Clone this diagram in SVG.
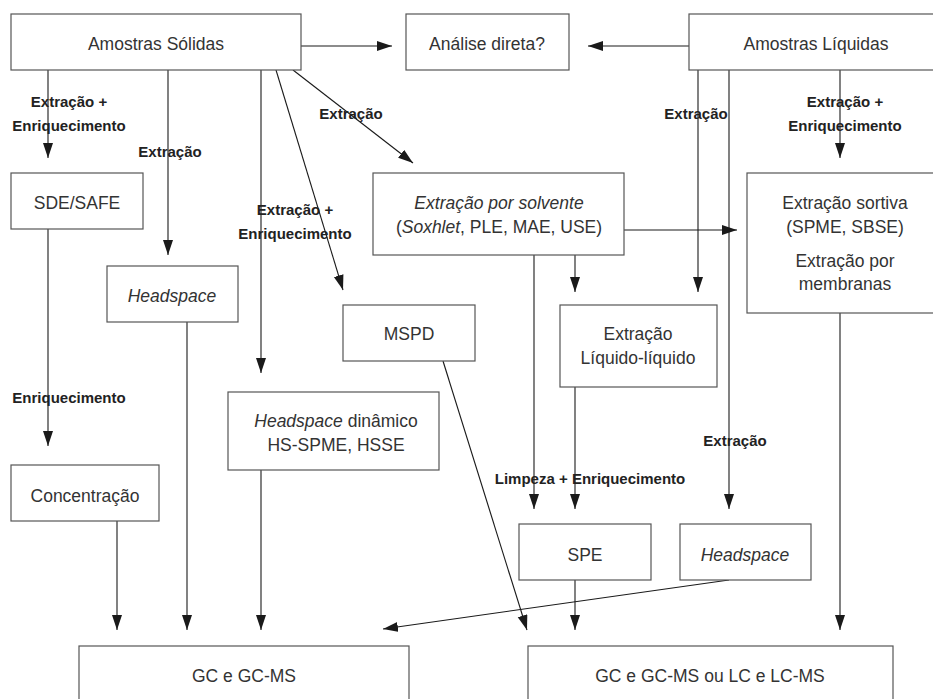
<svg xmlns="http://www.w3.org/2000/svg" width="933" height="699" viewBox="0 0 933 699">
<defs>
<marker id="ah" markerUnits="userSpaceOnUse" markerWidth="16" markerHeight="12" refX="15" refY="5" orient="auto"><path d="M0,0 L15,5 L0,10 z" fill="#1a1a1a"/></marker>
<style>
.box{fill:#fff;stroke:#555;stroke-width:1.2}
.t{font-family:"Liberation Sans",Arial,sans-serif;font-size:17.5px;fill:#333;text-anchor:middle}
.i{font-style:italic}
.lb{font-family:"Liberation Sans",Arial,sans-serif;font-size:15px;font-weight:bold;fill:#222;text-anchor:middle}
.c line{stroke:#1a1a1a;stroke-width:1.1;marker-end:url(#ah)}
</style>
</defs>
<rect width="933" height="699" fill="#fff"/>
<g class="c" id="connectors">
<line x1="301" y1="46" x2="392" y2="46"/>
<line x1="689" y1="46" x2="588" y2="46"/>
<line x1="48" y1="70" x2="48" y2="158"/>
<line x1="168" y1="70" x2="168" y2="255"/>
<line x1="261" y1="70" x2="261" y2="373"/>
<line x1="276" y1="70" x2="343" y2="290"/>
<line x1="293" y1="70" x2="413" y2="163"/>
<line x1="48" y1="229" x2="48" y2="446"/>
<line x1="117" y1="521" x2="117" y2="630"/>
<line x1="187" y1="322" x2="187" y2="630"/>
<line x1="261" y1="470" x2="261" y2="630"/>
<line x1="443" y1="361" x2="527" y2="630"/>
<line x1="729" y1="580" x2="383" y2="629"/>
<line x1="534" y1="255" x2="534" y2="509"/>
<line x1="575" y1="255" x2="575" y2="292"/>
<line x1="575" y1="387" x2="575" y2="509"/>
<line x1="575" y1="580" x2="575" y2="630"/>
<line x1="624" y1="230" x2="737" y2="230"/>
<line x1="698" y1="70" x2="698" y2="292"/>
<line x1="729" y1="70" x2="729" y2="509"/>
<line x1="840" y1="70" x2="840" y2="158"/>
<line x1="840" y1="313" x2="840" y2="630"/>
</g>
<g id="labels">
<text class="lb" x="69" y="107">Extração +</text>
<text class="lb" x="69" y="131">Enriquecimento</text>
<text class="lb" x="170" y="157">Extração</text>
<text class="lb" x="351" y="119">Extração</text>
<text class="lb" x="295" y="215">Extração +</text>
<text class="lb" x="295" y="239">Enriquecimento</text>
<text class="lb" x="69" y="403">Enriquecimento</text>
<text class="lb" x="696" y="119">Extração</text>
<text class="lb" x="845" y="107">Extração +</text>
<text class="lb" x="845" y="131">Enriquecimento</text>
<text class="lb" x="735" y="446">Extração</text>
<text class="lb" x="590" y="484">Limpeza + Enriquecimento</text>
</g>
<g id="solidas"><rect class="box" x="11" y="14" width="290" height="56"/><text class="t" x="156" y="50">Amostras Sólidas</text></g>
<g id="analise"><rect class="box" x="406" y="14" width="163" height="56"/><text class="t" x="487" y="50">Análise direta?</text></g>
<g id="liquidas"><rect class="box" x="689" y="14" width="256" height="56"/><text class="t" x="816" y="50">Amostras Líquidas</text></g>
<g id="sde"><rect class="box" x="11" y="173" width="132" height="56"/><text class="t" x="77" y="209">SDE/SAFE</text></g>
<g id="headspace1"><rect class="box" x="107" y="266" width="131" height="56"/><text class="t i" x="172" y="302">Headspace</text></g>
<g id="hsdinamico"><rect class="box" x="228" y="392" width="211" height="78"/><text class="t" x="336" y="427"><tspan class="i">Headspace</tspan> dinâmico</text><text class="t" x="336" y="451">HS-SPME, HSSE</text></g>
<g id="mspd"><rect class="box" x="343" y="305" width="132" height="56"/><text class="t" x="409" y="340">MSPD</text></g>
<g id="solvente"><rect class="box" x="373" y="173" width="251" height="82"/><text class="t i" x="499" y="209">Extração por solvente</text><text class="t" x="499" y="233">(<tspan class="i">Soxhlet</tspan>, PLE, MAE, USE)</text></g>
<g id="sortiva"><rect class="box" x="747" y="173" width="198" height="140"/><text class="t" x="845" y="209">Extração sortiva</text><text class="t" x="845" y="233">(SPME, SBSE)</text><text class="t" x="845" y="267">Extração por</text><text class="t" x="845" y="290">membranas</text></g>
<g id="lle"><rect class="box" x="560" y="305" width="157" height="82"/><text class="t" x="638" y="340">Extração</text><text class="t" x="638" y="364">Líquido-líquido</text></g>
<g id="concentracao"><rect class="box" x="11" y="465" width="148" height="56"/><text class="t" x="85" y="502">Concentração</text></g>
<g id="spe"><rect class="box" x="519" y="524" width="132" height="56"/><text class="t" x="585" y="561">SPE</text></g>
<g id="headspace2"><rect class="box" x="680" y="524" width="131" height="56"/><text class="t i" x="745" y="561">Headspace</text></g>
<g id="gc1"><rect class="box" x="79" y="646" width="330" height="70"/><text class="t" x="244" y="682">GC e GC-MS</text></g>
<g id="gc2"><rect class="box" x="528" y="646" width="365" height="70"/><text class="t" x="710" y="682">GC e GC-MS ou LC e LC-MS</text></g>
</svg>
